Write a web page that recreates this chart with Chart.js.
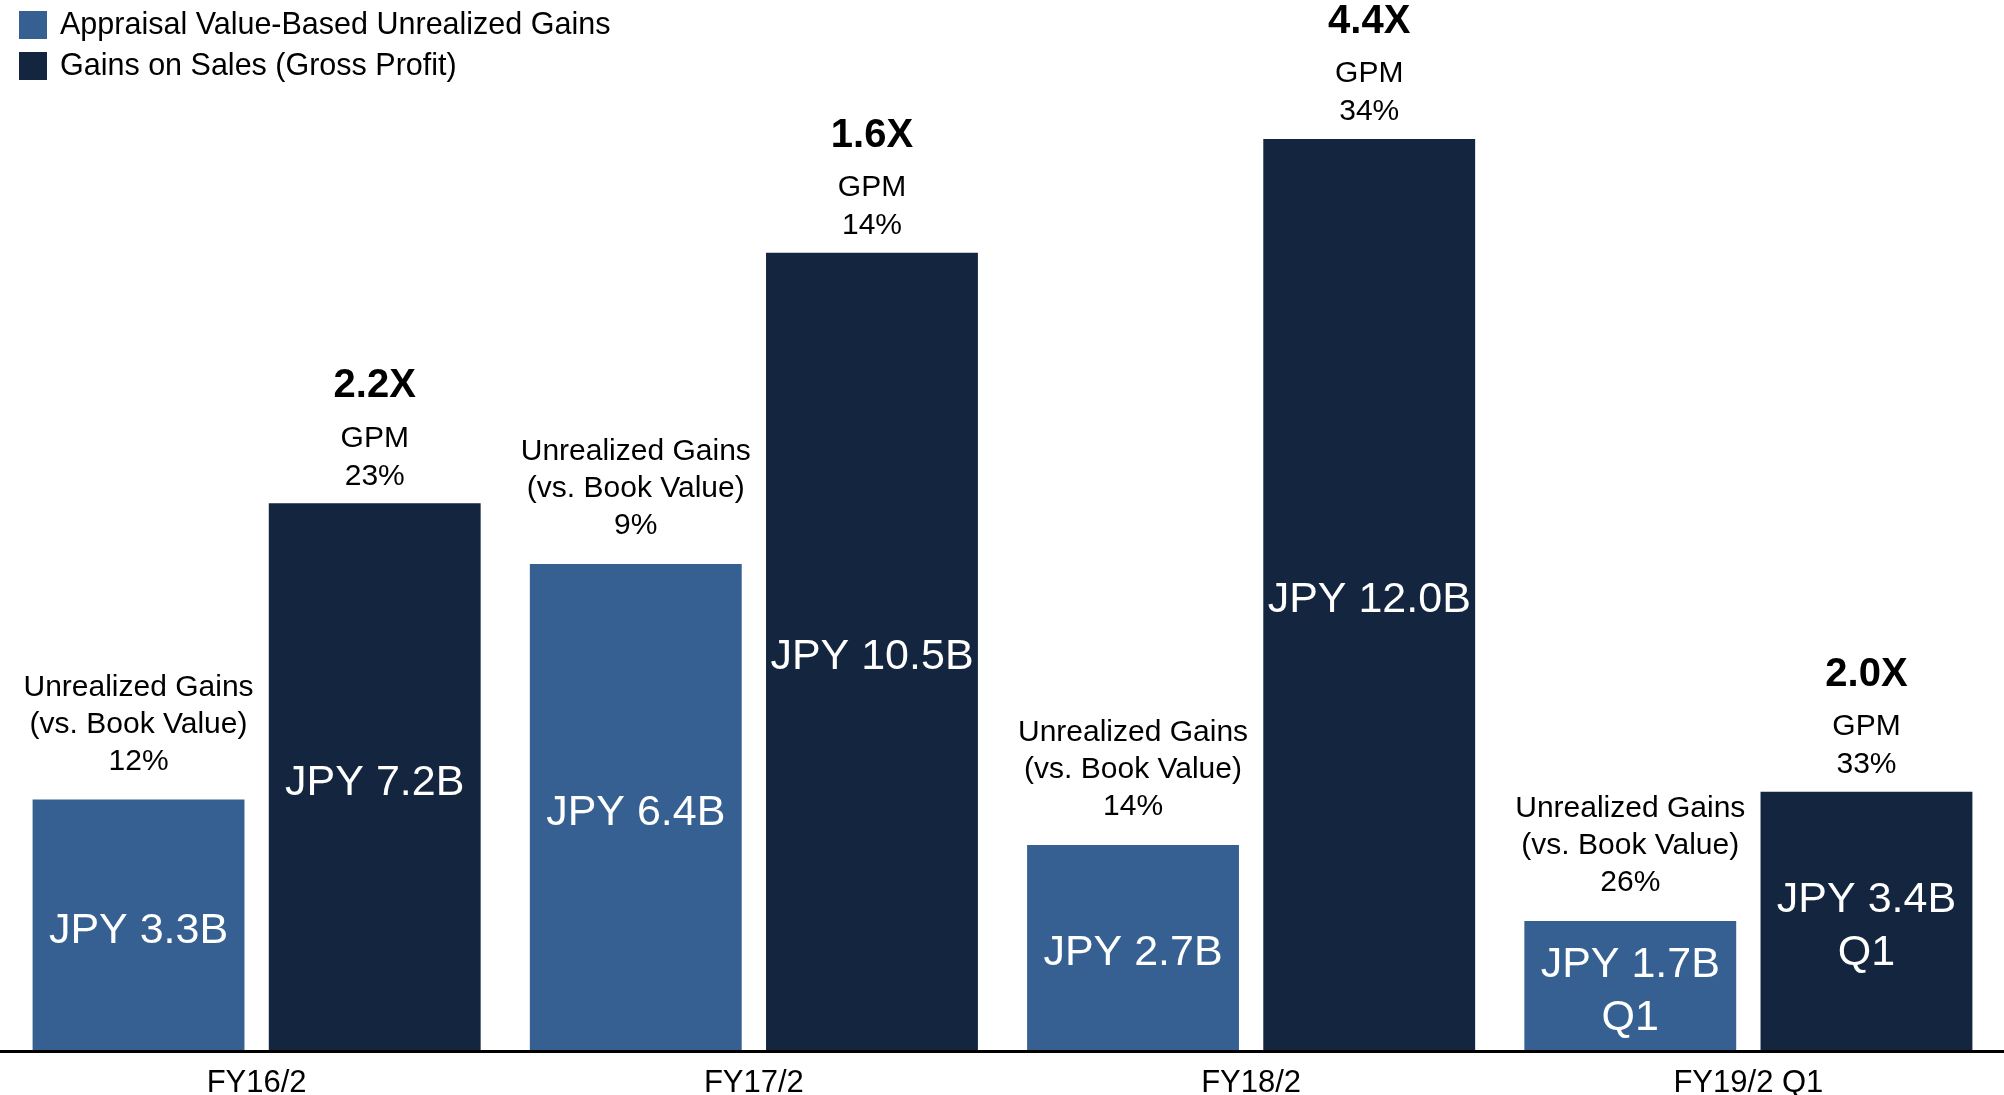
<!DOCTYPE html>
<html>
<head>
<meta charset="utf-8">
<script src="https://cdn.jsdelivr.net/npm/chart.js@4.4.1/dist/chart.umd.min.js"></script>
<style>
  html, body { margin: 0; padding: 0; background: #fff; }
</style>
</head>
<body>
<canvas id="myChart" width="2004" height="1095"></canvas>
<script>
// values in JPY billions
const periods = ['FY16/2', 'FY17/2', 'FY18/2', 'FY19/2 Q1'];
const unrealizedGains = [3.3, 6.4, 2.7, 1.7];
const salesGains = [7.2, 10.5, 12.0, 3.4];
const vsBookValue = ['12%', '9%', '14%', '26%'];
const grossMargin = ['23%', '14%', '34%', '33%'];
const multiples = ['2.2X', '1.6X', '4.4X', '2.0X'];
const periodNote = ['', '', '', 'Q1'];

const FONT = '"Liberation Sans", Arial, sans-serif';
const BLUE = '#376092';
const NAVY = '#13253F';

// text on and above the bars + baseline
const barLabels = {
  id: 'barLabels',
  afterDatasetsDraw(chart) {
    const ctx = chart.ctx;
    ctx.save();
    ctx.textAlign = 'center';
    ctx.textBaseline = 'middle';
    chart.data.datasets.forEach((ds, di) => {
      chart.getDatasetMeta(di).data.forEach((bar, i) => {
        const lines = ['JPY ' + ds.data[i].toFixed(1) + 'B'];
        if (periodNote[i]) lines.push(periodNote[i]);
        const mid = (bar.y + bar.base) / 2 + 6;
        ctx.fillStyle = '#fff';
        ctx.font = '43px ' + FONT;
        lines.forEach((t, k) => {
          ctx.fillText(t, bar.x, mid + (k - (lines.length - 1) / 2) * 53);
        });

        ctx.fillStyle = '#000';
        ctx.font = '30px ' + FONT;
        if (di === 0) {
          const note = ['Unrealized Gains', '(vs. Book Value)', vsBookValue[i]];
          note.forEach((t, k) => {
            ctx.fillText(t, bar.x, bar.y - 38 - (2 - k) * 37);
          });
        } else {
          ctx.fillText(grossMargin[i], bar.x, bar.y - 27);
          ctx.fillText('GPM', bar.x, bar.y - 65);
          ctx.font = 'bold 40px ' + FONT;
          ctx.fillText(multiples[i], bar.x, bar.y - 117);
        }
      });
    });
    ctx.fillStyle = '#000';
    ctx.fillRect(0, chart.chartArea.bottom, chart.width, 3);
    ctx.restore();
  }
};

// legend in the top-left corner
const cornerLegend = {
  id: 'cornerLegend',
  afterDraw(chart) {
    const ctx = chart.ctx;
    ctx.save();
    ctx.textAlign = 'left';
    ctx.textBaseline = 'middle';
    ctx.font = '30.5px ' + FONT;
    chart.data.datasets.forEach((ds, i) => {
      const y = 25 + i * 41;
      ctx.fillStyle = ds.backgroundColor;
      ctx.fillRect(19, y - 14, 28, 28);
      ctx.fillStyle = '#000';
      ctx.fillText(ds.label, 60, y + 1);
    });
    ctx.restore();
  }
};

new Chart(document.getElementById('myChart'), {
  type: 'bar',
  data: {
    labels: periods,
    datasets: [
      {
        label: 'Appraisal Value-Based Unrealized Gains',
        data: unrealizedGains,
        backgroundColor: BLUE,
        categoryPercentage: 0.95,
        barPercentage: 0.897
      },
      {
        label: 'Gains on Sales (Gross Profit)',
        data: salesGains,
        backgroundColor: NAVY,
        categoryPercentage: 0.95,
        barPercentage: 0.897
      }
    ]
  },
  options: {
    responsive: false,
    animation: false,
    layout: { padding: { left: 8, right: 7, top: 25, bottom: 0 } },
    plugins: {
      legend: { display: false },
      tooltip: { enabled: false }
    },
    scales: {
      x: {
        grid: { display: false, drawTicks: false },
        border: { display: false },
        ticks: { color: '#000', font: { family: FONT, size: 31 }, padding: 15 },
        afterFit: (scale) => { scale.height = 45; }
      },
      y: {
        display: false,
        min: 0,
        max: 13.5
      }
    }
  },
  plugins: [barLabels, cornerLegend]
});
</script>
</body>
</html>
